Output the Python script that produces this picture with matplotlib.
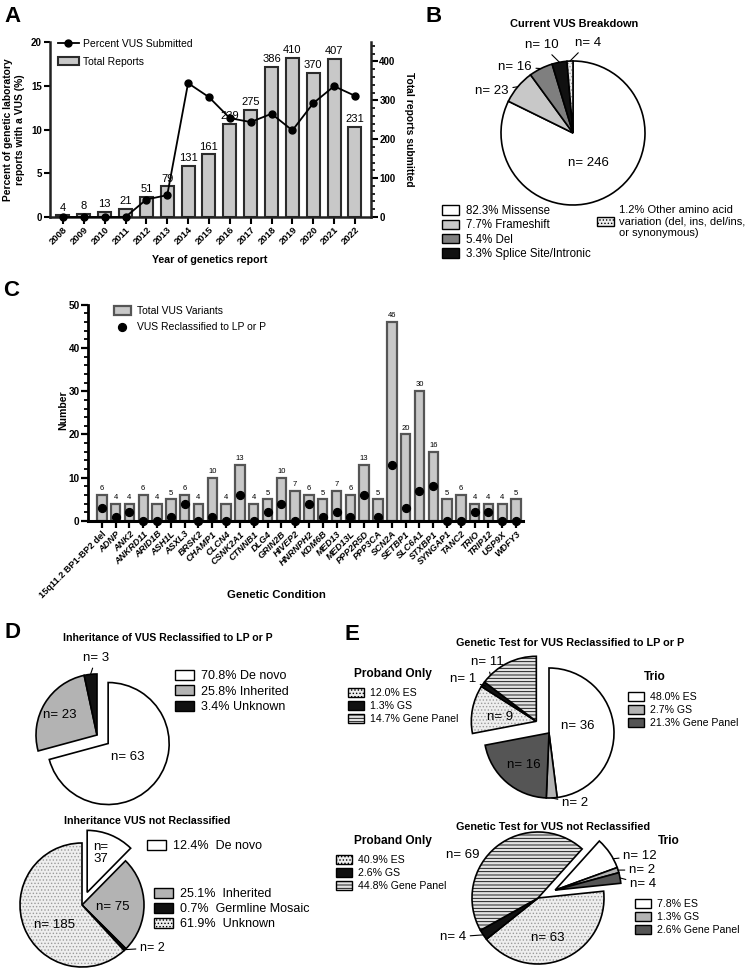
import matplotlib
matplotlib.use('Agg')
import matplotlib.pyplot as plt
from matplotlib.patches import Patch
from matplotlib.ticker import MultipleLocator
import numpy as np

plt.rcParams['font.family'] = ['Liberation Sans', 'DejaVu Sans']
plt.rcParams['hatch.linewidth'] = 0.6

W, H = 750, 969

# ---------------- data ----------------
years = [str(y) for y in range(2008, 2023)]
total_reports = [4, 8, 13, 21, 51, 79, 131, 161, 239, 275, 386, 410, 370, 407, 231]
percent_vus = [0, 0, 0, 0, 2.0, 2.5, 15.3, 13.7, 11.3, 10.85, 11.8, 9.9, 13.0, 14.95, 13.85]

b_labels = ['82.3% Missense', '7.7% Frameshift', '5.4% Del', '3.3% Splice Site/Intronic',
            '1.2% Other amino acid\nvariation (del, ins, del/ins,\nor synonymous)']
b_counts = [246, 23, 16, 10, 4]

conditions = ['15q11.2 BP1-BP2 del', 'ADNP', 'ANK2', 'ANKRD11', 'ARID1B', 'ASH1L', 'ASXL3',
              'BRSK2', 'CHAMP1', 'CLCN4', 'CSNK2A1', 'CTNNB1', 'DLG4', 'GRIN2B', 'HIVEP2',
              'HNRNPH2', 'KDM6B', 'MED13', 'MED13L', 'PPP2R5D', 'PPP3CA', 'SCN2A', 'SETBP1',
              'SLC6A1', 'STXBP1', 'SYNGAP1', 'TANC2', 'TRIO', 'TRIP12', 'USP9X', 'WDFY3']
total_vus = [6, 4, 4, 6, 4, 5, 6, 4, 10, 4, 13, 4, 5, 10, 7, 6, 5, 7, 6, 13, 5, 46, 20, 30, 16,
             5, 6, 4, 4, 4, 5]
reclassified = [3, 1, 2, 0, 0, 1, 4, 0, 1, 0, 6, 0, 2, 4, 0, 4, 1, 2, 1, 6, 1, 13, 3, 7, 8,
                0, 0, 2, 2, 0, 0]

d1_labels = ['70.8% De novo', '25.8% Inherited', '3.4% Unknown']
d1_counts = [63, 23, 3]
d2_labels = ['12.4%  De novo', '25.1%  Inherited', '0.7%  Germline Mosaic', '61.9%  Unknown']
d2_counts = [37, 75, 2, 185]

e1_trio_labels = ['48.0% ES', '2.7% GS', '21.3% Gene Panel']
e1_trio = [36, 2, 16]
e1_prob_labels = ['12.0% ES', '1.3% GS', '14.7% Gene Panel']
e1_prob = [9, 1, 11]
e2_trio_labels = ['7.8% ES', '1.3% GS', '2.6% Gene Panel']
e2_trio = [12, 2, 4]
e2_prob_labels = ['40.9% ES', '2.6% GS', '44.8% Gene Panel']
e2_prob = [63, 4, 69]

# ---------------- helpers ----------------
fig = plt.figure(figsize=(7.5, 9.69), dpi=100)


def rect(l, t, r, b):
    return [l / W, 1 - b / H, (r - l) / W, (b - t) / H]


def fpt(x, y):
    return (x / W, 1 - y / H)


def pie_axes(cx, cy, R, half=None):
    half = half or R * 1.7
    ax = fig.add_axes(rect(cx - half, cy - half, cx + half, cy + half))
    return ax, half / R


def finish_pie(ax, k):
    ax.set_xlim(-k, k)
    ax.set_ylim(-k, k)
    ax.set_aspect('equal')
    ax.axis('off')


def style(w, fc, hatch=None, hatchcolor=None):
    w.set_facecolor(fc)
    w.set_edgecolor('black')
    w.set_linewidth(1.2)
    if hatch:
        w.set_hatch(hatch)
        if hatchcolor is not None:
            try:
                w._hatch_color = matplotlib.colors.to_rgba(hatchcolor)
            except Exception:
                pass


def edge_pt(w, frac=0.5, r=1.0):
    th = np.deg2rad(w.theta1 + frac * (w.theta2 - w.theta1))
    cx, cy = w.center
    return (cx + r * w.r * np.cos(th), cy + r * w.r * np.sin(th))


def nlabel(ax, text, xy_px, fs, target=None, ha='center'):
    if target is None:
        fig.text(*fpt(*xy_px), text, ha=ha, va='center', fontsize=fs)
    else:
        ax.annotate(text, xy=target, xytext=fpt(*xy_px), textcoords='figure fraction',
                    ha=ha, va='center', fontsize=fs,
                    arrowprops=dict(arrowstyle='-', lw=0.8, color='black',
                                    shrinkA=1, shrinkB=0))


def legend_at(handles, labels, x, y, fs, **kw):
    opts = dict(loc='upper left', bbox_to_anchor=fpt(x, y), frameon=False, fontsize=fs,
                borderpad=0, borderaxespad=0, handletextpad=0.6, handlelength=1.5,
                handleheight=0.85, labelspacing=0.25)
    opts.update(kw)
    return fig.legend(handles, labels, **opts)


def panel_letter(ch, x, y):
    fig.text(*fpt(x, y), ch, fontsize=16, fontweight='bold', ha='left', va='center')


# ---------------- Panel A ----------------
axA = fig.add_axes(rect(50, 42, 371, 217))
axA2 = axA.twinx()
xa = np.arange(len(years))
barsA = axA2.bar(xa, total_reports, width=0.62, color='#c8c8c8', edgecolor='#2b2b2b',
                 linewidth=1.5, label='Total Reports')
axA2.bar_label(barsA, padding=2, fontsize=8)
axA2.set_ylim(0, 450)
axA.set_ylim(0, 20)
axA.set_xlim(-0.62, 14.77)
axA.set_zorder(axA2.get_zorder() + 1)
axA.patch.set_visible(False)
lineA, = axA.plot(xa, percent_vus, '-o', color='black', ms=5, lw=1.3,
                  label='Percent VUS Submitted', clip_on=False, zorder=5)
axA.spines['top'].set_visible(False)
axA2.spines['top'].set_visible(False)
axA.spines['right'].set_visible(False)
axA2.spines['left'].set_visible(False)
axA2.spines['bottom'].set_visible(False)
for sp in [axA.spines['left'], axA.spines['bottom'], axA2.spines['right']]:
    sp.set_linewidth(1.8)
    sp.set_color('#222222')
axA.yaxis.set_major_locator(MultipleLocator(5))
axA2.yaxis.set_minor_locator(MultipleLocator(20))
axA2.set_yticks([0, 100, 200, 300, 400])
axA.tick_params(axis='y', length=4, width=1.5, labelsize=7, pad=2)
axA2.tick_params(axis='y', which='major', length=5, width=1.5, labelsize=7, pad=1)
axA2.tick_params(axis='y', which='minor', length=3, width=1.2)
axA.tick_params(axis='x', length=5, width=1.5, pad=1)
axA.set_xticks(xa, years, rotation=45, ha='right', rotation_mode='anchor', fontsize=6.8,
               fontweight='bold')
for t in axA.get_yticklabels() + axA2.get_yticklabels():
    t.set_fontweight('bold')
fig.text(*fpt(14, 130), 'Percent of genetic laboratory\nreports with a VUS (%)', rotation=90,
         ha='center', va='center', fontsize=7.4, fontweight='bold', multialignment='center')
fig.text(*fpt(409, 129), 'Total reports submitted', rotation=270, ha='center', va='center',
         fontsize=7.4, fontweight='bold')
fig.text(*fpt(210, 260), 'Year of genetics report', ha='center', va='center', fontsize=7.7,
         fontweight='bold')
legend_at([lineA, barsA], ['Percent VUS Submitted', 'Total Reports'], 58, 39, 7.5,
          handlelength=2.0, handletextpad=0.4, labelspacing=0.75)
panel_letter('A', 4, 16)

# ---------------- Panel B ----------------
axB, kB = pie_axes(573, 133, 72)
wB, _ = axB.pie(b_counts, startangle=90, counterclock=False)
finish_pie(axB, kB)
b_fc = ['white', '#c8c8c8', '#7f7f7f', '#111111', '#eeeeee']
for i, w in enumerate(wB):
    style(w, b_fc[i], '.....' if i == 4 else None, '#999999')
fig.text(*fpt(574, 24), 'Current VUS Breakdown', ha='center', va='center', fontsize=7.9,
         fontweight='bold')
nlabel(axB, 'n= 246', (588, 163), 9.5)
nlabel(axB, 'n= 23', (492, 91), 9.5, edge_pt(wB[1], 0.5, 1.0))
nlabel(axB, 'n= 16', (515, 67), 9.5, edge_pt(wB[2], 0.5, 1.0))
nlabel(axB, 'n= 10', (542, 45), 9.5, edge_pt(wB[3], 0.5, 1.0))
nlabel(axB, 'n= 4', (588, 43), 9.5, edge_pt(wB[4], 0.5, 1.0))
hB = [Patch(facecolor=b_fc[i], edgecolor='black', linewidth=1.0,
            hatch='.....' if i == 4 else None) for i in range(5)]
legend_at(hB[:4], b_labels[:4], 442, 205, 8.3, labelspacing=0.2)
legend_at(hB[4:], b_labels[4:], 597, 205, 8.0, labelspacing=0.2, handletextpad=0.5)
panel_letter('B', 426, 16)

# ---------------- Panel C ----------------
axC = fig.add_axes(rect(88, 304.7, 523, 521))
xc = np.arange(len(conditions))
barsC = axC.bar(xc, total_vus, width=0.68, color='#c8c8c8', edgecolor='#555555',
                linewidth=1.6, label='Total VUS Variants')
axC.bar_label(barsC, padding=2, fontsize=5.5)
dotsC = axC.scatter(xc, reclassified, s=32, color='black', zorder=4, clip_on=False,
                    label='VUS Reclassified to LP or P')
axC.set_xlim(-1, 30.5)
axC.set_ylim(0, 50)
axC.spines['top'].set_visible(False)
axC.spines['right'].set_visible(False)
axC.spines['left'].set_linewidth(2.0)
axC.spines['bottom'].set_linewidth(2.2)
axC.yaxis.set_major_locator(MultipleLocator(10))
axC.yaxis.set_minor_locator(MultipleLocator(2))
axC.tick_params(axis='y', which='major', length=5, width=1.6, labelsize=7.2, pad=1)
axC.tick_params(axis='y', which='minor', length=3, width=1.3)
axC.tick_params(axis='x', length=5, width=1.6, pad=1)
axC.set_xticks(xc, conditions, rotation=45, ha='right', rotation_mode='anchor', fontsize=6.6,
               fontweight='bold')
for i, t in enumerate(axC.get_xticklabels()):
    if i > 0:
        t.set_fontstyle('italic')
for t in axC.get_yticklabels():
    t.set_fontweight('bold')
fig.text(*fpt(63, 410), 'Number', rotation=90, ha='center', va='center', fontsize=7.6,
         fontweight='bold')
fig.text(*fpt(276, 595), 'Genetic Condition', ha='center', va='center', fontsize=8.2,
         fontweight='bold')
legend_at([barsC, dotsC], ['Total VUS Variants', 'VUS Reclassified to LP or P'], 114, 306, 7.5,
          handlelength=1.6, labelspacing=0.6)
panel_letter('C', 3, 291)

# ---------------- Panel D ----------------
axD1, kD1 = pie_axes(97, 735, 61)
wD1, _ = axD1.pie(d1_counts, startangle=90, counterclock=False, explode=[0.23, 0, 0])
finish_pie(axD1, kD1)
d1_fc = ['white', '#b3b3b3', '#111111']
for i, w in enumerate(wD1):
    style(w, d1_fc[i])
fig.text(*fpt(168, 638), 'Inheritance of VUS Reclassified to LP or P', ha='center',
         va='center', fontsize=7.6, fontweight='bold')
nlabel(axD1, 'n= 3', (96, 658), 9.5, edge_pt(wD1[2], 0.5, 1.0))
nlabel(axD1, 'n= 23', (60, 715), 9.5)
nlabel(axD1, 'n= 63', (128, 757), 9.5)
hD1 = [Patch(facecolor=c, edgecolor='black', linewidth=1.0) for c in d1_fc]
legend_at(hD1, d1_labels, 175, 670, 9, labelspacing=0.25)

axD2, kD2 = pie_axes(82, 905, 62)
wD2, _ = axD2.pie(d2_counts, startangle=90, counterclock=False, explode=[0.22, 0, 0, 0])
finish_pie(axD2, kD2)
d2_fc = ['white', '#b3b3b3', '#111111', '#eeeeee']
for i, w in enumerate(wD2):
    style(w, d2_fc[i], '.....' if i == 3 else None, '#9a9a9a')
fig.text(*fpt(147, 821), 'Inheritance VUS not Reclassified', ha='center', va='center',
         fontsize=7.7, fontweight='bold')
fig.text(*fpt(101, 853), 'n=\n37', ha='center', va='center', fontsize=9.5, linespacing=1.1)
nlabel(axD2, 'n= 75', (113, 907), 9.5)
nlabel(axD2, 'n= 185', (55, 925), 9.5)
nlabel(axD2, 'n= 2', (140, 948), 9, edge_pt(wD2[2], 0.5, 1.0), ha='left')
hD2 = [Patch(facecolor=d2_fc[i], edgecolor='black', linewidth=1.0,
             hatch='.....' if i == 3 else None) for i in range(4)]
legend_at(hD2[:1], d2_labels[:1], 147, 840, 9)
legend_at(hD2[1:], d2_labels[1:], 154, 888, 9, labelspacing=0.22)
panel_letter('D', 4, 633)

# ---------------- Panel E ----------------
def e_pie(cx, cy, R, trio, prob, start, shift_group, shift):
    ax, k = pie_axes(cx, cy, R)
    wedges, _ = ax.pie(trio + prob, startangle=start, counterclock=False)
    finish_pie(ax, k)
    fcs = ['white', '#b3b3b3', '#555555', '#eeeeee', '#111111', '#e2e2e2']
    hatches = [None, None, None, '.....', None, '-----']
    for i, w in enumerate(wedges):
        style(w, fcs[i], hatches[i], '#9a9a9a' if i == 3 else 'black')
    idx = range(0, 3) if shift_group == 'trio' else range(3, 6)
    for i in idx:
        c = wedges[i].center
        wedges[i].set_center((c[0] + shift[0], c[1] + shift[1]))
    handles = [Patch(facecolor=fcs[i], edgecolor='black', linewidth=1.0, hatch=hatches[i])
               for i in range(6)]
    return ax, wedges, handles


axE1, wE1, hE = e_pie(549, 733, 65, e1_trio, e1_prob, 90, 'prob', (-0.195, 0.18))
fig.text(*fpt(570, 643), 'Genetic Test for VUS Reclassified to LP or P', ha='center',
         va='center', fontsize=7.8, fontweight='bold')
fig.text(*fpt(393, 674), 'Proband Only', ha='center', va='center', fontsize=8.6,
         fontweight='bold')
fig.text(*fpt(655, 677), 'Trio', ha='center', va='center', fontsize=8.6, fontweight='bold')
legend_at(hE[3:], e1_prob_labels, 348, 688, 7.6, labelspacing=0.3)
legend_at(hE[:3], e1_trio_labels, 628, 692, 7.6, labelspacing=0.3)
nlabel(axE1, 'n= 11', (487, 662), 9.5, edge_pt(wE1[5], 0.85, 1.0))
nlabel(axE1, 'n= 1', (463, 679), 9.5, edge_pt(wE1[4], 0.5, 0.95))
nlabel(axE1, 'n= 9', (500, 717), 9.5)
nlabel(axE1, 'n= 36', (578, 726), 9.5)
nlabel(axE1, 'n= 16', (524, 765), 9.5)
nlabel(axE1, 'n= 2', (575, 803), 9.5, edge_pt(wE1[1], 0.5, 1.0))

axE2, wE2, _ = e_pie(538, 898, 66, e2_trio, e2_prob, 48, 'trio', (0.26, 0.12))
fig.text(*fpt(553, 827), 'Genetic Test for VUS not Reclassified', ha='center', va='center',
         fontsize=7.8, fontweight='bold')
fig.text(*fpt(393, 841), 'Proband Only', ha='center', va='center', fontsize=8.6,
         fontweight='bold')
fig.text(*fpt(669, 841), 'Trio', ha='center', va='center', fontsize=8.6, fontweight='bold')
legend_at(hE[3:], e2_prob_labels, 336, 855, 7.6, labelspacing=0.3)
legend_at(hE[:3], e2_trio_labels, 635, 899, 7.6, labelspacing=0.3)
nlabel(axE2, 'n= 69', (463, 855), 9.5)
nlabel(axE2, 'n= 63', (548, 938), 9.5)
nlabel(axE2, 'n= 4', (453, 937), 9.5, edge_pt(wE2[4], 0.5, 1.0))
nlabel(axE2, 'n= 12', (640, 856), 9.5, edge_pt(wE2[0], 0.3, 1.0))
nlabel(axE2, 'n= 2', (642, 870), 9.5, edge_pt(wE2[1], 0.5, 1.0))
nlabel(axE2, 'n= 4', (643, 884), 9.5, edge_pt(wE2[2], 0.5, 1.0))
panel_letter('E', 345, 634)

fig.savefig('out.png', dpi=100)
